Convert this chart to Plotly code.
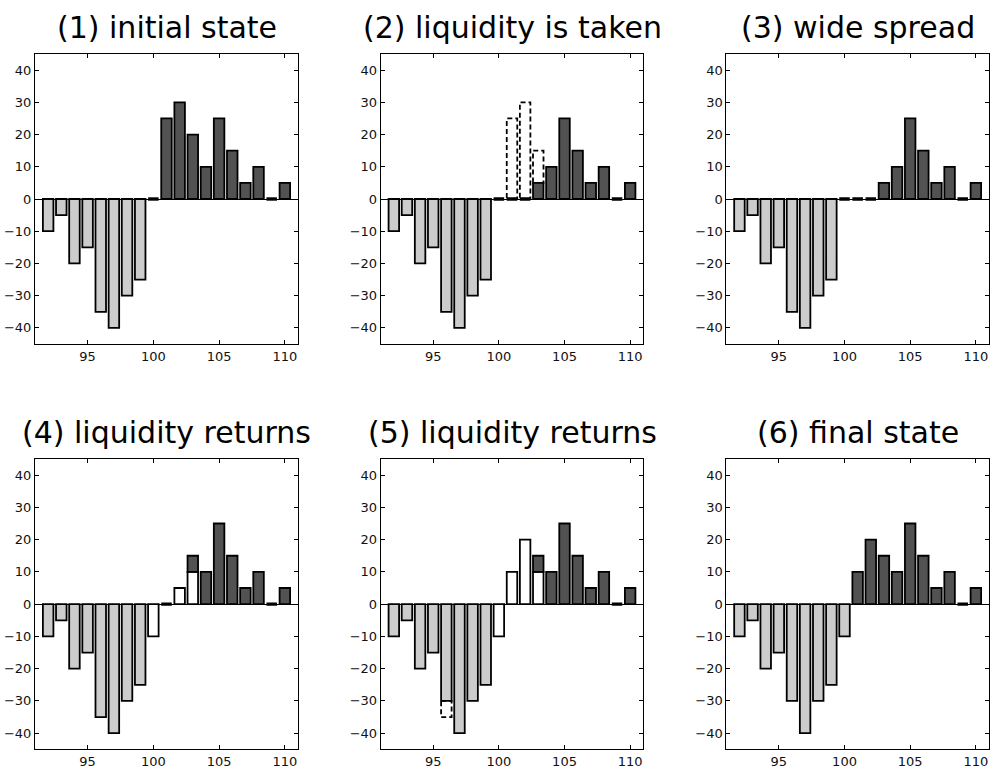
import plotly.graph_objects as go

# ---------------- data ----------------
prices = list(range(92, 111))  # 92 .. 110

titles = ["(1) initial state", "(2) liquidity is taken", "(3) wide spread",
          "(4) liquidity returns", "(5) liquidity returns", "(6) final state"]

# resting (old) liquidity, signed: bids negative, asks positive
old_1 = [-10, -5, -20, -15, -35, -40, -30, -25, 0, 25, 30, 20, 10, 25, 15, 5, 10, 0, 5]
old_2 = [-10, -5, -20, -15, -35, -40, -30, -25, 0, 0, 0, 5, 10, 25, 15, 5, 10, 0, 5]
old_3 = [-10, -5, -20, -15, -35, -40, -30, -25, 0, 0, 0, 5, 10, 25, 15, 5, 10, 0, 5]
old_4 = [-10, -5, -20, -15, -35, -40, -30, -25, 0, 0, 0, 5, 10, 25, 15, 5, 10, 0, 5]
old_5 = [-10, -5, -20, -15, -30, -40, -30, -25, 0, 0, 0, 5, 10, 25, 15, 5, 10, 0, 5]
old_6 = [-10, -5, -20, -15, -30, -40, -30, -25, -10, 10, 20, 15, 10, 25, 15, 5, 10, 0, 5]

# newly arrived liquidity (white bars)
new_1 = [0] * 19
new_2 = [0] * 19
new_3 = [0] * 19
new_4 = [0, 0, 0, 0, 0, 0, 0, 0, -10, 0, 5, 10, 0, 0, 0, 0, 0, 0, 0]
new_5 = [0, 0, 0, 0, 0, 0, 0, 0, -10, 10, 20, 10, 0, 0, 0, 0, 0, 0, 0]
new_6 = [0] * 19

# removed liquidity (dashed outlines)
removed_1 = [0] * 19
removed_2 = [0, 0, 0, 0, 0, 0, 0, 0, 0, 25, 30, 10, 0, 0, 0, 0, 0, 0, 0]
removed_3 = [0] * 19
removed_4 = [0] * 19
removed_5 = [0, 0, 0, 0, -5, 0, 0, 0, 0, 0, 0, 0, 0, 0, 0, 0, 0, 0, 0]
removed_6 = [0] * 19

olds = [old_1, old_2, old_3, old_4, old_5, old_6]
news = [new_1, new_2, new_3, new_4, new_5, new_6]
removeds = [removed_1, removed_2, removed_3, removed_4, removed_5, removed_6]

x_ticks = [95, 100, 105, 110]
y_ticks = [-40, -30, -20, -10, 0, 10, 20, 30, 40]

# ---------------- style ----------------
W, H = 994, 772
BAR_W = 0.8
LIGHT = "#cccccc"
DARK = "#525252"
EDGE = "black"
LW = 1.8
FONT = "DejaVu Sans"

col_px = [(35, 298), (380.7, 643.3), (726.3, 989)]
row_px = [(54, 344), (459, 749.3)]

fig = go.Figure()
annotations = []
shapes = []

for i in range(6):
    r, c = divmod(i, 3)
    ax = "" if i == 0 else str(i + 1)
    xa, ya = "x" + ax, "y" + ax
    old, new, rem = olds[i], news[i], removeds[i]

    # white (new) bars, base 0
    nx = [p for p, v in zip(prices, new) if v != 0]
    nv = [v for v in new if v != 0]
    if nx:
        fig.add_trace(go.Bar(x=nx, y=nv, base=0, width=BAR_W, xaxis=xa, yaxis=ya,
                             marker=dict(color="white", line=dict(color=EDGE, width=LW)),
                             showlegend=False, hoverinfo="skip"))
    # old bars stacked beyond the new ones
    for sign, colr in ((-1, LIGHT), (1, DARK)):
        ox, ov, ob = [], [], []
        for p, v, n in zip(prices, old, new):
            if v != 0 and (v > 0) == (sign > 0):
                ox.append(p); ov.append(v); ob.append(n)
        if ox:
            fig.add_trace(go.Bar(x=ox, y=ov, base=ob, width=BAR_W, xaxis=xa, yaxis=ya,
                                 marker=dict(color=colr, line=dict(color=EDGE, width=LW)),
                                 showlegend=False, hoverinfo="skip"))
    # zero-height bars appear as thick segments on the baseline
    zx, zy = [], []
    for p, v, n in zip(prices, old, new):
        if v == 0 and n == 0:
            zx += [p - BAR_W / 2, p + BAR_W / 2, None]
            zy += [0, 0, None]
    if zx:
        fig.add_trace(go.Scatter(x=zx, y=zy, mode="lines", xaxis=xa, yaxis=ya,
                                 line=dict(color=EDGE, width=3.4),
                                 showlegend=False, hoverinfo="skip"))
    # removed liquidity as dashed outlines
    for p, v, o, n in zip(prices, rem, old, new):
        if v != 0:
            b = o + n
            shapes.append(dict(type="rect", xref=xa, yref=ya,
                               x0=p - BAR_W / 2, x1=p + BAR_W / 2, y0=b, y1=b + v,
                               fillcolor="white", layer="between",
                               line=dict(color=EDGE, width=LW, dash="5px,3px")))

    x0, x1 = col_px[c]
    y0, y1 = row_px[r]
    xdom = [x0 / W, x1 / W]
    ydom = [1 - y1 / H, 1 - y0 / H]
    axis_common = dict(showline=True, linecolor="black", linewidth=1, mirror="ticks",
                       ticks="inside", ticklen=4, tickwidth=1, tickcolor="black",
                       showgrid=False,
                       tickfont=dict(family=FONT, size=13, color="#111111"))
    fig.update_layout(**{
        "xaxis" + ax: dict(domain=xdom, range=[91, 111], tickvals=x_ticks,
                           anchor=ya, zeroline=False, **axis_common),
        "yaxis" + ax: dict(domain=ydom, range=[-45, 45], tickvals=y_ticks,
                           anchor=xa, zeroline=True, zerolinecolor="black",
                           zerolinewidth=1, **axis_common),
    })
    annotations.append(dict(text=titles[i], xref="paper", yref="paper",
                            x=(x0 + x1) / 2 / W, y=1 - (y0 - 7) / H,
                            xanchor="center", yanchor="bottom", showarrow=False,
                            font=dict(family=FONT, size=30, color="black")))

fig.update_layout(width=W, height=H, margin=dict(l=0, r=0, t=0, b=0),
                  paper_bgcolor="white", plot_bgcolor="white",
                  barmode="overlay", annotations=annotations, shapes=shapes)

# remove the default page margin so the figure fills the window exactly
fig.write_html("out.html",
               config={"displayModeBar": False},
               post_script="document.body.style.margin='0';"
                           "document.body.style.overflow='hidden';")
